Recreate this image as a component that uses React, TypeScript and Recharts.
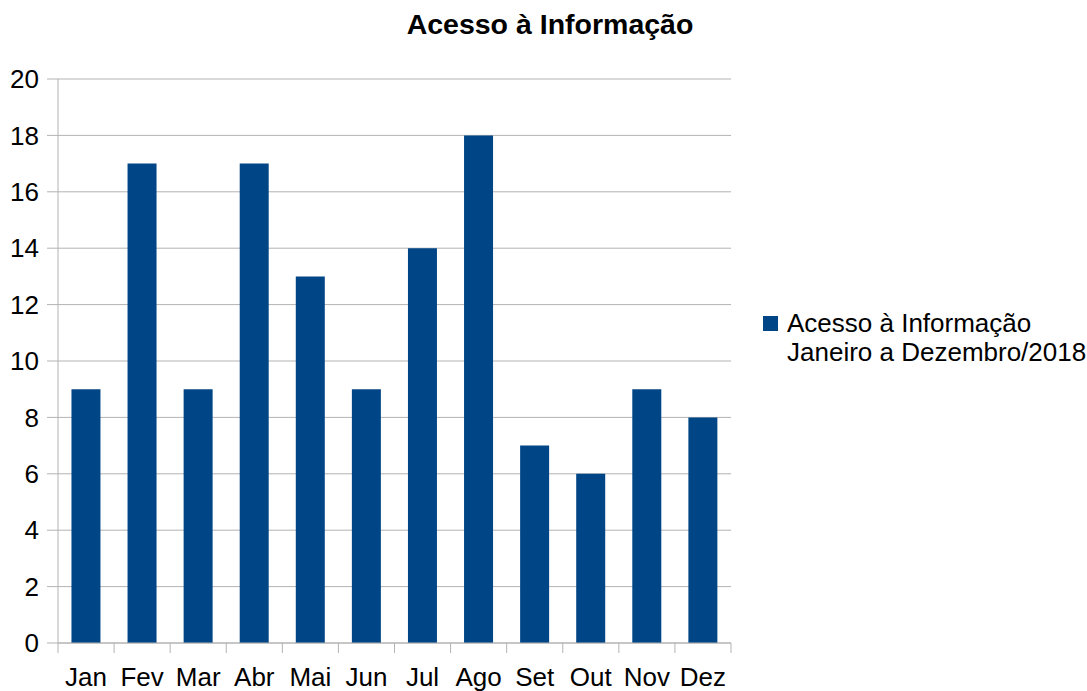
import { BarChart, Bar, XAxis, YAxis, CartesianGrid, Legend } from 'recharts'

const months = ['Jan', 'Fev', 'Mar', 'Abr', 'Mai', 'Jun', 'Jul', 'Ago', 'Set', 'Out', 'Nov', 'Dez']
const acessos = [9, 17, 9, 17, 13, 9, 14, 18, 7, 6, 9, 8]
const yTicks = [0, 2, 4, 6, 8, 10, 12, 14, 16, 18, 20]

const data = months.map((m, i) => ({ name: m, value: acessos[i] }))

const W = 1087
const H = 691
const LEFT = 58
const RIGHT = 731
const GRID = '#b3b3b3'
const BLUE = '#004586'
const FONT = '"Liberation Sans", Arial, sans-serif'
const FS = 26

const band = (RIGHT - LEFT) / months.length

function MonthTick(props: any) {
  const { x, y, payload, index } = props
  const half = band / 2
  return (
    <g>
      <line x1={x - half} x2={x - half} y1={y - 10} y2={y} stroke={GRID} strokeWidth={1} />
      {index === months.length - 1 && (
        <line x1={x + half} x2={x + half} y1={y - 10} y2={y} stroke={GRID} strokeWidth={1} />
      )}
      <text x={x} y={y + 33} textAnchor="middle" fontSize={FS} fill="#000" fontFamily={FONT}>
        {payload.value}
      </text>
    </g>
  )
}

function LegendBox() {
  return (
    <div style={{ display: 'flex', alignItems: 'flex-start', fontFamily: FONT, fontSize: FS, lineHeight: '29px', color: '#000' }}>
      <span style={{ display: 'inline-block', width: 15, height: 15, background: BLUE, marginTop: 7, marginRight: 9 }} />
      <span>
        Acesso à Informação
        <br />
        Janeiro a Dezembro/2018
      </span>
    </div>
  )
}

export default function App() {
  return (
    <div style={{ position: 'absolute', left: 0, top: 0, width: W, height: H, background: '#fff', fontFamily: FONT }}>
      <div
        style={{
          position: 'absolute',
          left: 550 - 200,
          width: 400,
          top: 8,
          textAlign: 'center',
          fontSize: 28.5,
          fontWeight: 'bold',
          color: '#000',
        }}
      >
        Acesso à Informação
      </div>
      <BarChart
        width={W}
        height={H}
        data={data}
        margin={{ top: 79, right: W - RIGHT, bottom: 0, left: 0 }}
        barCategoryGap="24%"
      >
        <CartesianGrid vertical={false} stroke={GRID} />
        <XAxis
          dataKey="name"
          height={48}
          axisLine={{ stroke: GRID }}
          tickLine={false}
          tickSize={10}
          tickMargin={0}
          interval={0}
          tick={<MonthTick />}
        />
        <YAxis
          width={LEFT}
          domain={[0, 20]}
          ticks={yTicks}
          interval={0}
          axisLine={{ stroke: GRID }}
          tickLine={{ stroke: GRID }}
          tickSize={11}
          tickMargin={8}
          tick={{ fill: '#000', fontSize: FS, fontFamily: FONT }}
        />
        <YAxis
          yAxisId="frame"
          orientation="right"
          width={0}
          domain={[0, 20]}
          tick={false}
          tickLine={false}
          axisLine={{ stroke: GRID }}
        />
        <Legend
          align="center"
          verticalAlign="middle"
          layout="horizontal"
          content={<LegendBox />}
          wrapperStyle={{ left: 763, top: 309, width: 324 }}
        />
        <Bar dataKey="value" fill={BLUE} isAnimationActive={false} />
      </BarChart>
    </div>
  )
}
